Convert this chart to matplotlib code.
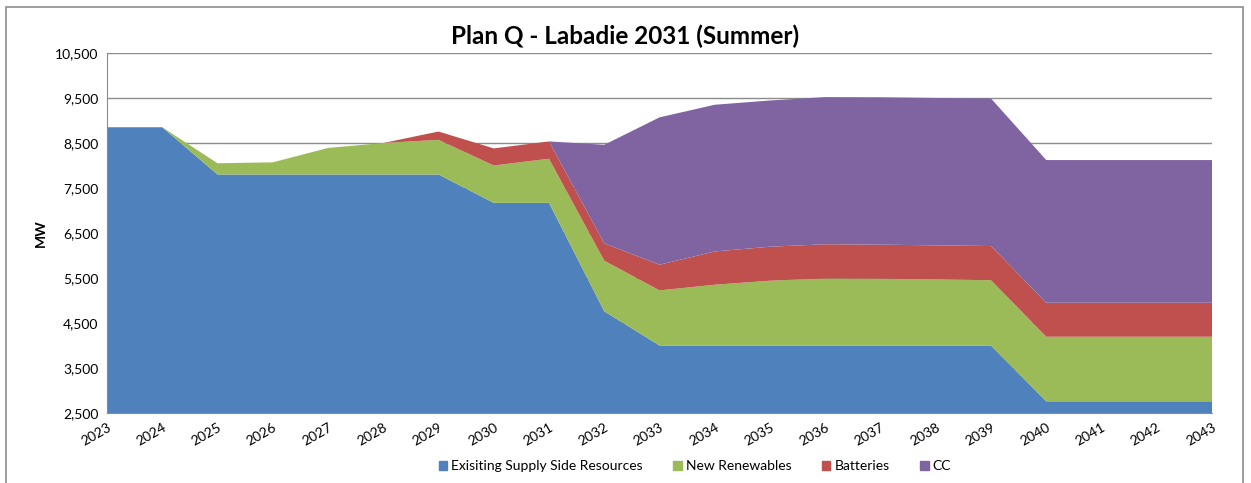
import matplotlib.pyplot as plt
import matplotlib.patches as mpatches
import numpy as np

plt.rcParams['font.family'] = ['Lato', 'DejaVu Sans']

years = [str(y) for y in range(2023, 2044)]

# MW per resource type (stacked)
existing = [8850, 8850, 7800, 7800, 7800, 7800, 7800, 7170, 7170, 4760, 4000,
            4000, 4000, 4000, 4000, 4000, 4000, 2760, 2760, 2760, 2760]
renewables = [0, 0, 250, 270, 590, 700, 770, 830, 980, 1125, 1225,
              1350, 1440, 1490, 1485, 1470, 1450, 1435, 1435, 1435, 1435]
batteries = [0, 0, 0, 0, 0, 0, 185, 380, 385, 385, 570,
             740, 755, 760, 756, 756, 760, 756, 756, 756, 756]
cc = [0, 0, 0, 0, 0, 0, 0, 0, 0, 2190, 3275,
      3260, 3250, 3270, 3275, 3275, 3280, 3170, 3170, 3170, 3170]

names = ['Exisiting Supply Side Resources', 'New Renewables', 'Batteries', 'CC']
colors = ['#4F81BD', '#9BBB59', '#C0504D', '#8064A2']

fig = plt.figure(figsize=(12.51, 4.83), dpi=100)
# outer chart border
fig.patches.append(mpatches.Rectangle((6 / 1251, -0.05), 1237 / 1251, 1 - 7 / 483 + 0.05,
                                      transform=fig.transFigure, fill=False,
                                      edgecolor='#8c8c8c', linewidth=1.2))

ax = fig.add_axes([107 / 1251, 1 - 413 / 483, 1105 / 1251, 360 / 483])
x = np.arange(len(years))
ax.stackplot(x, existing, renewables, batteries, cc, colors=colors, labels=names,
             baseline='zero', zorder=2)

ax.set_xlim(0, len(years) - 1)
ax.set_ylim(2500, 10500)
ax.set_yticks(np.arange(2500, 10501, 1000))
ax.set_yticklabels([f'{v:,}' for v in range(2500, 10501, 1000)], fontsize=10)
ax.set_xticks(x)
ax.set_xticklabels(years, rotation=30, ha='right', rotation_mode='anchor', fontsize=10)
ax.tick_params(length=0, pad=6)
ax.grid(axis='y', color='#8c8c8c', linewidth=1.0, zorder=1)
ax.set_axisbelow(True)
for s in ['top', 'right']:
    ax.spines[s].set_visible(False)
for s in ['left', 'bottom']:
    ax.spines[s].set_color('#8c8c8c')
    ax.spines[s].set_zorder(3)

ax.set_ylabel('MW', fontsize=10, fontweight='bold', labelpad=6)
fig.text(0.5, 1 - 36 / 483, 'Plan Q - Labadie 2031 (Summer)', ha='center', va='center',
         fontsize=17.5, fontweight='bold')

handles = [mpatches.Patch(color=c, label=n) for c, n in zip(colors, names)]
fig.legend(handles=handles, loc='center', bbox_to_anchor=(695 / 1251, 1 - 466 / 483),
           ncol=4, frameon=False, fontsize=10, handlelength=0.6, handleheight=0.6,
           handletextpad=0.3, columnspacing=2.2)

fig.savefig('out.png', dpi=100)
